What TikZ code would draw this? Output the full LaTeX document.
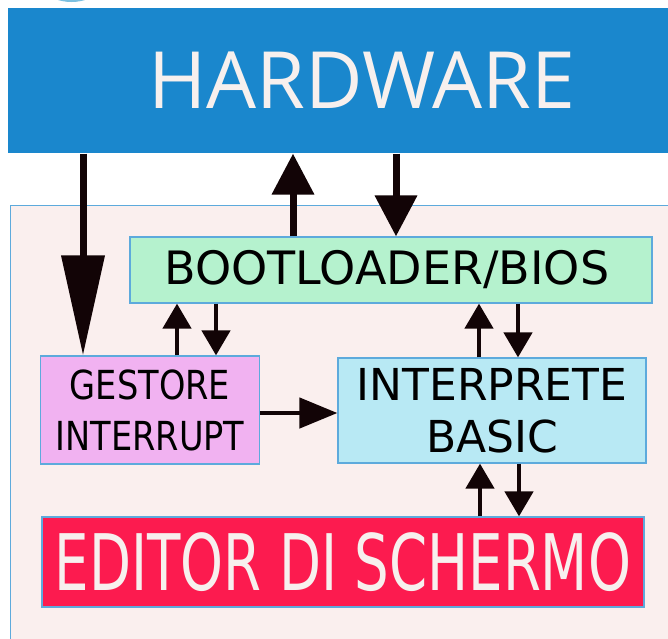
\documentclass[tikz,border=0pt]{standalone}
\usepackage{fontspec}
\usetikzlibrary{arrows.meta}
\newfontfamily\hwfont{Open Sans}
\newfontfamily\boxfont{DejaVu Sans}
\newfontfamily\gestfont[FakeStretch=0.84]{DejaVu Sans}
\newfontfamily\edfont[FakeStretch=0.70]{DejaVu Sans}
\begin{document}
\begin{tikzpicture}[x=1pt, y=-1pt,
  box/.style={draw=boxline, line width=1.2pt, inner sep=0pt, align=center, text=black},
  bigarrow/.style={draw=arrowcol, line width=7pt, -{Triangle[width=41pt, length=41pt]}},
  smallarrow/.style={draw=arrowcol, line width=4.5pt, -{Triangle[width=28pt, length=25pt]}}]
\definecolor{hwblue}{HTML}{1A87CD}
\definecolor{arcblue}{HTML}{7CC0E0}
\definecolor{panelfill}{HTML}{FAEFEE}
\definecolor{boxline}{HTML}{5DAADC}
\definecolor{bootfill}{HTML}{B5F2CE}
\definecolor{gestfill}{HTML}{F1B2F1}
\definecolor{interpfill}{HTML}{B8E9F4}
\definecolor{editfill}{HTML}{FC1B4F}
\definecolor{lighttext}{HTML}{F7F0EE}
\definecolor{arrowcol}{HTML}{120406}
\useasboundingbox (0,0) rectangle (668,638);
\clip (0,0) rectangle (668,638);
\fill[white] (0,0) rectangle (668,638);
\fill[arcblue] (71.5,-44.5) circle (46.5);
\fill[panelfill] (10,205) rectangle (700,700);
\draw[boxline, line width=1pt] (10,700) -- (10,205) -- (700,205);
\node[box, draw=none, fill=hwblue, minimum width=708pt, minimum height=145pt, text=lighttext, font=\hwfont\fontsize{79}{79}\selectfont] (hw) at (362,80.5) {HARDWARE};
\node[box, fill=bootfill, minimum width=522pt, minimum height=66pt, font=\boxfont\fontsize{46}{46}\selectfont] (boot) at (391,270) {BOOTLOADER/BIOS\hspace*{8pt}};
\node[box, fill=gestfill, minimum width=219pt, minimum height=108pt, font=\gestfont\fontsize{40}{51}\selectfont] (gest) at (150,410) {GESTORE\\INTERRUPT};
\node[box, fill=interpfill, minimum width=308pt, minimum height=105pt, font=\boxfont\fontsize{44}{52}\selectfont] (interp) at (492,410.5) {INTERPRETE\\BASIC};
\node[box, fill=editfill, minimum width=602pt, minimum height=90pt, text=lighttext, font=\edfont\fontsize{78}{78}\selectfont] (edit) at (343,562) {EDITOR DI SCHERMO};
\draw[bigarrow, -{Triangle[width=42pt, length=100pt]}] ([xshift=-67pt]gest.north |- hw.south) -- ([xshift=-67pt]gest.north);
\draw[bigarrow] ([xshift=-98pt]boot.north) -- ([xshift=-98pt]boot.north |- hw.south);
\draw[bigarrow] ([xshift=5pt]boot.north |- hw.south) -- ([xshift=5pt]boot.north);
\draw[smallarrow] ([xshift=27pt]gest.north) -- ([xshift=27pt]gest.north |- boot.south);
\draw[smallarrow] ([xshift=66pt]gest.north |- boot.south) -- ([xshift=66pt]gest.north);
\draw[smallarrow] ([xshift=-13pt]interp.north) -- ([xshift=-13pt]interp.north |- boot.south);
\draw[smallarrow] ([xshift=26pt]interp.north |- boot.south) -- ([xshift=26pt]interp.north);
\draw[smallarrow] ([xshift=-12pt]interp.south |- edit.north) -- ([xshift=-12pt]interp.south);
\draw[smallarrow] ([xshift=27pt]interp.south) -- ([xshift=27pt]interp.south |- edit.north);
\draw[smallarrow, -{Triangle[width=30pt, length=38pt]}] ([yshift=-3pt]gest.east) -- ([yshift=-3pt]gest.east -| interp.west);
\end{tikzpicture}
\end{document}
